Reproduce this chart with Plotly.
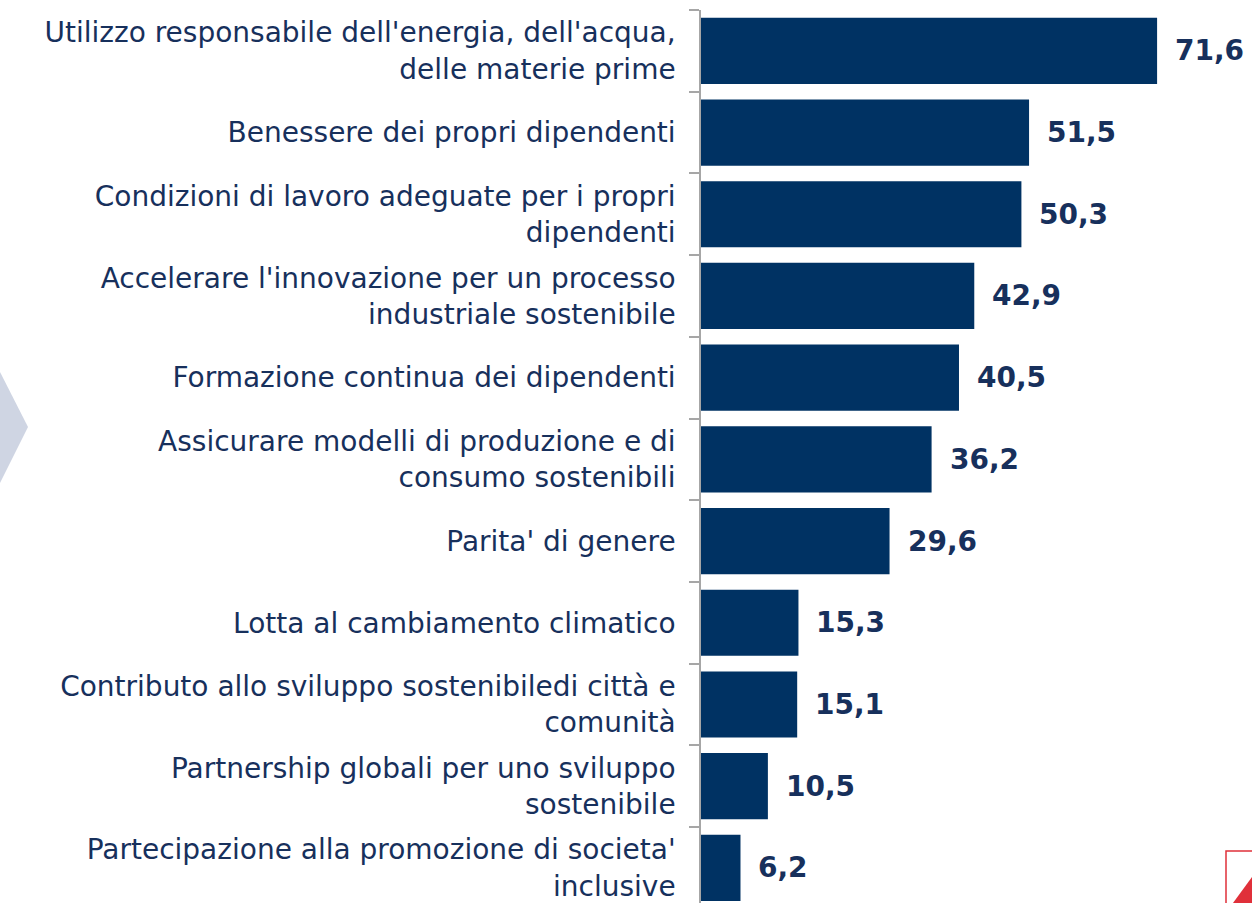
import plotly.graph_objects as go

# Categories top -> bottom, values in %
categories = [
    "Utilizzo responsabile dell'energia, dell'acqua,<br>delle materie prime",
    "Benessere dei propri dipendenti",
    "Condizioni di lavoro adeguate per i propri<br>dipendenti",
    "Accelerare l'innovazione per un processo<br>industriale sostenibile",
    "Formazione continua dei dipendenti",
    "Assicurare modelli di produzione e di<br>consumo sostenibili",
    "Parita' di genere",
    "Lotta al cambiamento climatico",
    "Contributo allo sviluppo sostenibiledi città e<br>comunità",
    "Partnership globali per uno sviluppo<br>sostenibile",
    "Partecipazione alla promozione di societa'<br>inclusive",
]
values = [71.6, 51.5, 50.3, 42.9, 40.5, 36.2, 29.6, 15.3, 15.1, 10.5, 6.2]
value_labels = [f"{v:.1f}".replace(".", ",") for v in values]

BAR = "#003263"
TEXT = "#17305c"
FONT = "DejaVu Sans, Verdana, sans-serif"

W, H = 1252, 903
ML, MT = 701, 10
PW, PH = W - ML, H - MT


def px_to_paper(x, y):
    return (x - ML) / PW, (H - y) / PH


fig = go.Figure()
fig.add_trace(go.Bar(
    x=values, y=categories, orientation="h",
    marker=dict(color=BAR, line=dict(width=0)),
    hoverinfo="skip",
))

for cat, v, lab in zip(categories, values, value_labels):
    fig.add_annotation(
        x=v, y=cat, text=f"<b>{lab}</b>", showarrow=False,
        xanchor="left", xshift=16,
        font=dict(family=FONT, size=28, color=TEXT),
    )

# decorative chevron at far left
pts = [px_to_paper(-20, 372), px_to_paper(0, 372), px_to_paper(28, 427),
       px_to_paper(0, 483), px_to_paper(-20, 483)]
path = "M " + " L ".join(f"{a:.4f},{b:.4f}" for a, b in pts) + " Z"
fig.add_shape(type="path", path=path, xref="paper", yref="paper",
              fillcolor="#cfd5e3", line=dict(width=0), layer="below")

# partial logo at bottom-right corner
x0, y0 = px_to_paper(1226, 851)
x1, y1 = px_to_paper(1260, 910)
fig.add_shape(type="rect", x0=x0, y0=y0, x1=x1, y1=y1, xref="paper", yref="paper",
              line=dict(color="#e0303a", width=1.5), fillcolor="rgba(0,0,0,0)")
t = [px_to_paper(1233, 903), px_to_paper(1252, 877), px_to_paper(1252, 903)]
fig.add_shape(type="path", xref="paper", yref="paper",
              path="M " + " L ".join(f"{a:.4f},{b:.4f}" for a, b in t) + " Z",
              fillcolor="#e0303a", line=dict(width=0))

n = len(categories)
fig.update_layout(
    width=W, height=H,
    margin=dict(l=ML, r=0, t=MT, b=0),
    paper_bgcolor="white", plot_bgcolor="white",
    bargap=0.19,
    showlegend=False,
    font=dict(family=FONT, size=28, color=TEXT),
    xaxis=dict(range=[0, PW / 6.37], visible=False, fixedrange=True),
    yaxis=dict(
        type="category", categoryorder="array", categoryarray=categories,
        range=[n - 1 + 0.43, -0.5],
        showline=True, linecolor="#a6a6a6", linewidth=1.5,
        ticks="outside", tickson="boundaries", ticklen=10, tickcolor="#a6a6a6",
        tickwidth=1.5, ticklabelstandoff=18,
        tickfont=dict(family=FONT, size=28, color=TEXT),
        showgrid=False, fixedrange=True,
    ),
)

# drop the browser's default body margin so the figure sits at the page corner
fig.write_html("out.html", config={"displayModeBar": False},
               post_script="document.body.style.margin='0';")
